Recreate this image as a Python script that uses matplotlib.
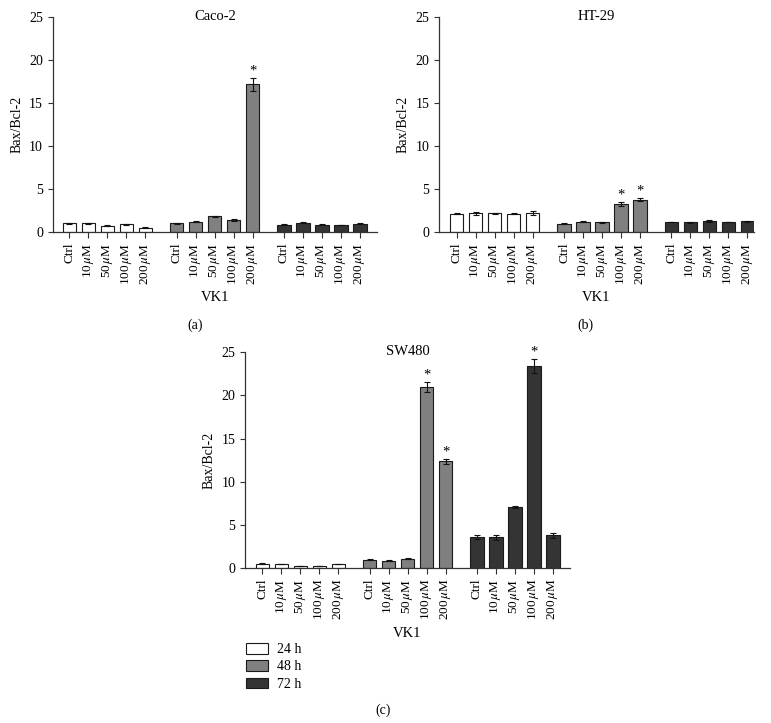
import numpy as np
import matplotlib
matplotlib.use("Agg")
import matplotlib.pyplot as plt
from matplotlib.patches import Patch

plt.rcParams["font.family"] = ["Liberation Serif", "DejaVu Serif"]
plt.rcParams["mathtext.fontset"] = "stix"

# ── Data ──────────────────────────────────────────────────────────────
doses = ["Ctrl", r"10$\,\mu$M", r"50$\,\mu$M", r"100$\,\mu$M", r"200$\,\mu$M"]
times = ["24 h", "48 h", "72 h"]

caco2_vals = [[1.05, 1.05, 0.75, 0.95, 0.55],
              [1.05, 1.20, 1.85, 1.45, 17.2],
              [0.90, 1.10, 0.90, 0.85, 1.00]]
caco2_errs = [[0.05, 0.05, 0.05, 0.05, 0.08],
              [0.08, 0.06, 0.06, 0.08, 0.75],
              [0.04, 0.05, 0.04, 0.04, 0.06]]
caco2_sig = [(1, 4)]

ht29_vals = [[2.15, 2.20, 2.20, 2.15, 2.25],
             [1.00, 1.25, 1.15, 3.30, 3.80],
             [1.20, 1.15, 1.30, 1.20, 1.30]]
ht29_errs = [[0.08, 0.20, 0.10, 0.08, 0.20],
             [0.08, 0.05, 0.05, 0.25, 0.15],
             [0.05, 0.05, 0.10, 0.05, 0.05]]
ht29_sig = [(1, 3), (1, 4)]

sw480_vals = [[0.55, 0.50, 0.25, 0.25, 0.50],
              [1.00, 0.90, 1.10, 21.0, 12.4],
              [3.65, 3.60, 7.05, 23.4, 3.80]]
sw480_errs = [[0.05, 0.05, 0.04, 0.04, 0.05],
              [0.08, 0.06, 0.06, 0.60, 0.30],
              [0.25, 0.30, 0.10, 0.80, 0.25]]
sw480_sig = [(1, 3), (1, 4), (2, 3)]

colors = ["#ffffff", "#808080", "#343434"]
group_offsets = [0.0, 5.65, 11.3]

# ── Plot ──────────────────────────────────────────────────────────────
fig = plt.figure(figsize=(7.71, 7.23), dpi=100)
ax_a = fig.add_axes([0.0683, 0.6787, 0.4207, 0.2974])
ax_b = fig.add_axes([0.5694, 0.6787, 0.4086, 0.2974])
ax_c = fig.add_axes([0.3178, 0.2140, 0.4215, 0.2988])


def draw_panel(ax, vals, errs, sig, title, xlim):
    ticks, labels = [], []
    for g in range(3):
        pos = np.arange(5) + group_offsets[g]
        ax.bar(pos, vals[g], width=0.7, color=colors[g], edgecolor="#1a1a1a",
               linewidth=0.8, yerr=errs[g], capsize=2.2,
               error_kw=dict(elinewidth=0.8, capthick=0.8, ecolor="#111111"))
        ticks.extend(pos)
        labels.extend(doses)
    for g, i in sig:
        x = i + group_offsets[g]
        ax.text(x, vals[g][i] + errs[g][i] + 0.05, "*", ha="center",
                va="bottom", fontsize=10.5)
    ax.set_xlim(*xlim)
    ax.set_ylim(0, 25)
    ax.set_yticks([0, 5, 10, 15, 20, 25])
    ax.set_xticks(ticks)
    ax.set_xticklabels(labels, rotation=90, fontsize=9.5)
    ax.tick_params(axis="y", labelsize=10, length=3.6, width=0.8,
                   color="#333333", pad=3.4)
    ax.tick_params(axis="x", length=4, width=0.8, color="#333333")
    for side in ["top", "right"]:
        ax.spines[side].set_visible(False)
    for side in ["left", "bottom"]:
        ax.spines[side].set_color("#333333")
        ax.spines[side].set_linewidth(0.9)
    ax.set_ylabel("Bax/Bcl-2", fontsize=10, labelpad=4)
    ax.text(0.5, 1.005, title, transform=ax.transAxes, ha="center",
            va="center", fontsize=10.5)
    ax.set_xlabel("VK1", fontsize=10.5, labelpad=5)


draw_panel(ax_a, caco2_vals, caco2_errs, caco2_sig, "Caco-2", (-0.87, 16.2))
draw_panel(ax_b, ht29_vals, ht29_errs, ht29_sig, "HT-29", (-0.93, 15.65))
draw_panel(ax_c, sw480_vals, sw480_errs, sw480_sig, "SW480", (-0.91, 16.2))

fig.text(195 / 771, 1 - 325 / 723, "(a)", ha="center", va="center", fontsize=10)
fig.text(585 / 771, 1 - 325 / 723, "(b)", ha="center", va="center", fontsize=10)
fig.text(383 / 771, 1 - 710 / 723, "(c)", ha="center", va="center", fontsize=10)

handles = [Patch(facecolor=c, edgecolor="#1a1a1a", linewidth=0.8) for c in colors]
fig.legend(handles, times, loc="upper left", bbox_to_anchor=(246 / 771, 1 - 643 / 723),
           frameon=False, fontsize=10, handlelength=1.6, handleheight=0.8,
           labelspacing=0.3, handletextpad=0.6, borderpad=0.0, borderaxespad=0.0)

fig.savefig("out.png", dpi=100, facecolor="white")
plt.close()
